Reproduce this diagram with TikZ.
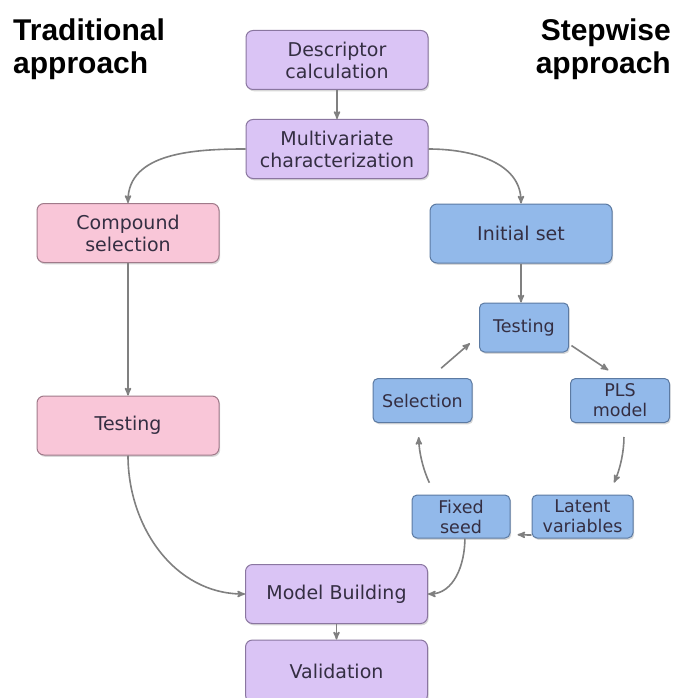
\documentclass[tikz,border=0pt]{standalone}
\usepackage{fontspec}
\usepackage{tikz}
\usetikzlibrary{arrows,shapes,shadows}
\setmainfont{DejaVu Sans}
\newfontfamily\headfont{Liberation Sans}
\definecolor{lilac}{RGB}{218,196,245}
\definecolor{lilacedge}{RGB}{138,118,160}
\definecolor{rose}{RGB}{249,198,216}
\definecolor{roseedge}{RGB}{160,122,138}
\definecolor{sky}{RGB}{146,185,234}
\definecolor{skyedge}{RGB}{92,122,162}
\definecolor{boxtext}{RGB}{52,46,66}
\definecolor{linkgray}{RGB}{128,128,128}
\tikzset{
  box/.style={rectangle,rounded corners=7pt,draw,line width=1pt,align=center,inner sep=0pt,
    text=boxtext,font=\fontsize{19}{22}\selectfont,minimum width=182pt,minimum height=59pt,
    drop shadow={shadow xshift=1.2pt,shadow yshift=-1.8pt,opacity=0.3}},
  lilacbox/.style={box,fill=lilac,draw=lilacedge},
  rosebox/.style={box,fill=rose,draw=roseedge},
  skybox/.style={box,fill=sky,draw=skyedge},
  cyclebox/.style={skybox,font=\fontsize{17.5}{20}\selectfont,minimum width=99pt,minimum height=44pt,rounded corners=5pt},
  head/.style={inner sep=0pt,font=\headfont\bfseries\fontsize{30}{33}\selectfont},
  link/.style={->,>=stealth',draw=linkgray,line width=1.6pt}
}

\begin{document}
\begin{tikzpicture}[x=1pt,y=1pt]
  \fill[white] (0,0) rectangle (678,-698);
  \useasboundingbox (0,0) rectangle (678,-698);

  \node[head,anchor=north west,align=left] (tradhead) at (13,-19) {Traditional\\approach};
  \node[head,anchor=north east,align=right] (stephead) at (671,-19) {Stepwise\\approach};

  \node[lilacbox] (desc) at (337,-60) {Descriptor\\calculation};
  \node[lilacbox] (multi) at (337,-149) {Multivariate\\characterization};
  \node[rosebox] (comp) at (128,-233) {Compound\\selection};
  \node[skybox] (init) at (521,-233.5) {Initial set};
  \node[rosebox] (test1) at (128,-425.5) {Testing};
  \node[cyclebox,minimum width=89pt,minimum height=49pt] (test2) at (524,-327.5) {Testing};
  \node[cyclebox] (sel) at (422.5,-400.5) {Selection};
  \node[cyclebox] (pls) at (620,-400.5) {PLS\\model};
  \node[cyclebox,minimum width=98pt,minimum height=43pt] (fix) at (461,-516.5) {Fixed\\seed};
  \node[cyclebox,minimum width=101pt,minimum height=43pt] (lat) at (582.5,-516.5) {Latent\\variables};
  \node[lilacbox] (mb) at (336.5,-594) {Model Building};
  \node[lilacbox,minimum height=62pt] (val) at (336.5,-671) {Validation};

  % main flow
  \draw[link] (desc) -- (multi);
  \draw[link] (multi.west) to[out=180,in=90] (comp.north);
  \draw[link] (multi.east) to[out=0,in=90] (init.north);
  \draw[link] (comp) -- (test1);
  \draw[link] (init.south) -- (init.south |- test2.north);
  \draw[link] (test1.south) to[out=-90,in=180] (mb.west);
  \draw[link] (fix.-80) to[out=-90,in=0] (mb.east);
  \draw[link] (mb) -- (val);

  % stepwise cycle
  \draw[link,shorten <=3pt,shorten >=14pt] (test2.-20) -- (pls.north);
  \draw[link,shorten <=14pt,shorten >=13pt] (pls.-80) to[bend left=12] (lat.40);
  \draw[link,shorten >=7pt] (lat.200) -- (fix.-20);
  \draw[link,shorten <=13pt,shorten >=14pt] (fix.140) to[bend left=12] (sel.-100);
  \draw[link,shorten <=15pt,shorten >=12pt] (sel.72) -- (test2.190);
\end{tikzpicture}
\end{document}
